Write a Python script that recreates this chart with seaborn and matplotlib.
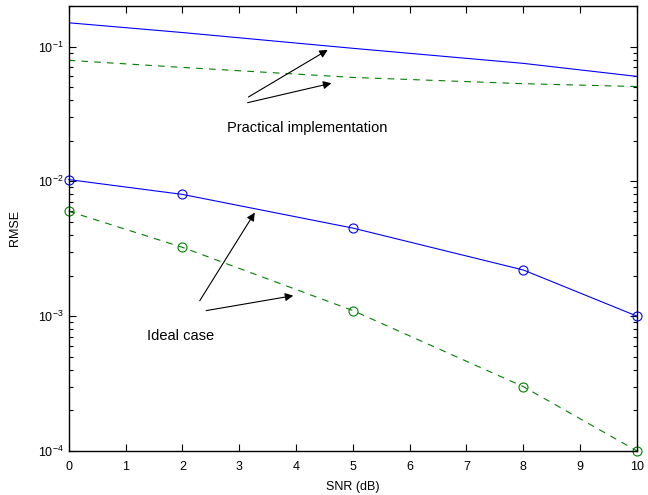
import numpy as np
import pandas as pd
import seaborn as sns
import matplotlib
matplotlib.use("Agg")
import matplotlib.pyplot as plt

snr = [0, 2, 5, 8, 10]
practical_1 = [0.150, 0.127, 0.097, 0.075, 0.060]
practical_2 = [0.079, 0.070, 0.059, 0.053, 0.0505]
ideal_1 = [0.0103, 0.0080, 0.0045, 0.0022, 0.0010]
ideal_2 = [0.0060, 0.00324, 0.0011, 0.00030, 0.00010]

sns.set_style("ticks")
plt.rcParams['font.family'] = ['Liberation Sans', 'DejaVu Sans']
plt.rcParams['mathtext.fontset'] = 'custom'
plt.rcParams['mathtext.rm'] = 'Liberation Sans'
plt.rcParams['xtick.direction'] = 'in'
plt.rcParams['ytick.direction'] = 'in'
for k in ['text.color', 'axes.labelcolor', 'xtick.color', 'ytick.color', 'axes.edgecolor']:
    plt.rcParams[k] = 'black'

fig = plt.figure(figsize=(6.48, 4.95), dpi=100)
ax = fig.add_axes([0.106, 0.089, 0.877, 0.899])

blue = '#0000ff'
green = '#008000'
dash = (0, (6, 5.5))

sns.lineplot(x=snr, y=practical_1, color=blue, lw=0.8, ax=ax)
sns.lineplot(x=snr, y=practical_2, color=green, lw=0.8, ax=ax, linestyle=dash)
sns.lineplot(x=snr, y=ideal_1, color=blue, lw=0.8, ax=ax, marker='o', clip_on=False,
             markersize=6.5, markerfacecolor='none', markeredgecolor=blue, markeredgewidth=0.8)
sns.lineplot(x=snr, y=ideal_2, color=green, lw=0.8, ax=ax, linestyle=dash, marker='o', clip_on=False,
             markersize=6.5, markerfacecolor='none', markeredgecolor=green, markeredgewidth=0.8)

ax.set_yscale('log')
ax.set_xlim(0, 10)
ax.set_ylim(1e-4, 0.2)
ax.set_xticks(range(0, 11))
ax.set_yticks([1e-4, 1e-3, 1e-2, 1e-1])
ax.tick_params(which='both', top=True, right=True, labelsize=9, width=0.8)
ax.tick_params(which='major', length=5)
ax.tick_params(which='minor', length=3)
ax.tick_params(axis='x', pad=7)
for s in ax.spines.values():
    s.set_linewidth(1.0)

ax.set_xlabel('SNR (dB)', fontsize=9, labelpad=6)
ax.set_ylabel('RMSE', fontsize=9, labelpad=12)

arr = dict(arrowstyle='-|>', color='black', lw=0.8, mutation_scale=12)
ax.annotate('', xy=(4.60, 0.0967), xytext=(3.12, 0.0412), arrowprops=arr)
ax.annotate('', xy=(4.67, 0.054), xytext=(3.10, 0.0379), arrowprops=arr)
ax.text(4.2, 0.0247, 'Practical implementation', ha='center', va='center', fontsize=10.5)
ax.annotate('', xy=(3.30, 0.0061), xytext=(2.28, 0.00125), arrowprops=arr)
ax.annotate('', xy=(4.0, 0.00143), xytext=(2.37, 0.00109), arrowprops=arr)
ax.text(1.96, 0.00071, 'Ideal case', ha='center', va='center', fontsize=10.5)

fig.savefig('out.png', dpi=100)
